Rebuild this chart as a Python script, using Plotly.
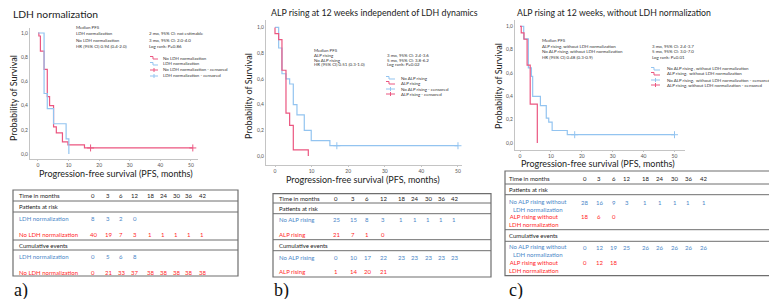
import plotly.graph_objects as go

W, H = 777, 299
FONT = "Lato, 'Open Sans', sans-serif"

# ---------------- data ----------------
x_ticks = [0, 10, 20, 30, 40, 50]
y_ticks = [0.0, 0.2, 0.4, 0.6, 0.8, 1.0]
y_tick_labels = ["0,0", "0,2", "0,4", "0,6", "0,8", "1,0"]
table_times = [0, 3, 6, 12, 18, 24, 30, 36, 42]

# Panel a - LDH normalization
a_noldh_t = [0, 0.3, 0.8, 2.0, 3.05, 3.8, 5.1, 6.0, 8.0, 9.8, 15.2, 50.6]
a_noldh_s = [1.0, 0.975, 0.85, 0.70, 0.475, 0.40, 0.225, 0.175, 0.10, 0.075, 0.05, 0.05]
a_noldh_cens = [17.2, 50.6]
a_ldh_t = [0, 2.0, 3.05, 5.1, 9.2, 10.1]
a_ldh_s = [1.0, 0.5, 0.375, 0.25, 0.125, 0.0]

# Panel b - ALP rising independent of LDH
b_noalp_t = [0, 1.0, 1.9, 3.0, 4.0, 5.0, 6.0, 8.0, 9.9, 15.0, 50.0]
b_noalp_s = [1.0, 0.84, 0.64, 0.60, 0.56, 0.40, 0.32, 0.20, 0.12, 0.08, 0.08]
b_noalp_cens = [16.9, 50.0]
b_alp_t = [0, 0, 1.0, 1.9, 3.0, 4.0, 5.0, 9.1]
b_alp_s = [1.0, 0.952, 0.905, 0.667, 0.333, 0.238, 0.048, 0.0]

# Panel c - ALP rising without LDH normalization
c_noalp_t = [0, 1.2, 2.7, 3.7, 4.1, 6.6, 8.5, 9.3, 10.4, 15.3, 50.0]
c_noalp_s = [1.0, 0.893, 0.643, 0.571, 0.40, 0.321, 0.214, 0.179, 0.107, 0.071, 0.071]
c_noalp_cens = [17.7, 50.0]
c_alp_t = [0, 0.4, 1.3, 2.3, 3.3, 5.6]
c_alp_s = [1.0, 0.944, 0.889, 0.667, 0.333, 0.0]

# Tables
a_risk_ldh = [8, 3, 2, 0]
a_risk_noldh = [40, 19, 7, 3, 1, 1, 1, 1, 1]
a_cum_ldh = [0, 5, 6, 8]
a_cum_noldh = [0, 21, 33, 37, 38, 38, 38, 38, 38]
b_risk_noalp = [25, 15, 8, 3, 1, 1, 1, 1, 1]
b_risk_alp = [21, 7, 1, 0]
b_cum_noalp = [0, 10, 17, 22, 23, 23, 23, 23, 23]
b_cum_alp = [1, 14, 20, 21]
c_risk_noalp = [28, 16, 9, 3, 1, 1, 1, 1, 1]
c_risk_alp = [18, 6, 0]
c_cum_noalp = [0, 12, 19, 25, 26, 26, 26, 26, 26]
c_cum_alp = [0, 12, 18]

# Texts
a_median = ["Median PFS", "LDH normalization", "No LDH normalization", "HR (95% CI) 0.94 (0.4-2.0)"]
a_median_r = ["2 mo, 95% CI: not estimable", "3 mo, 95% CI: 2.0-4.0", "Log rank: P=0.86"]
a_legend = ["No LDH normalization", "LDH normalization",
            "No LDH normalization - censored", "LDH normalization - censored"]
b_median = ["Median PFS", "ALP rising", "No ALP rising", "HR (95% CI) 0.51 (0.3-1.0)"]
b_median_r = ["3 mo, 95% CI: 2.4-3.6", "5 mo, 95% CI: 3.8-6.2", "Log rank: P=0.02"]
b_legend = ["No ALP rising", "ALP rising", "No ALP rising - censored", "ALP rising - censored"]
c_median = ["Median PFS", "ALP rising, without LDH normalization",
            "No ALP rising, without LDH normalization", "HR (95% CI) 0.48 (0.3-0.9)"]
c_median_r = ["3 mo, 95% CI: 2.4-3.7", "5 mo, 95% CI: 3.0-7.0", "Log rank: P=0.01"]
c_legend = ["No ALP rising , without LDH normalization", "ALP rising,  without LDH normalization",
            "No ALP rising,  without LDH normalization - censored",
            "ALP rising, without LDH normalization - censored"]

# ---------------- styling ----------------
BLUE = "#93c4f0"
PINK = "#eb5680"
TBLUE = "#4a86c8"
TRED = "#ff1f1f"
AX = "#c4c4c4"
TXT = "#333333"


def X(px):
    return px / W


def Y(py):
    return 1 - py / H


def step_at(ts, ss, t):
    val = ss[0]
    for ti, si in zip(ts, ss):
        if ti <= t:
            val = si
    return val


fig = go.Figure()
annotations = []
shapes = []


def ann(text, x, y, size, color=TXT, xanchor="left", yanchor="middle", angle=0, family=FONT):
    annotations.append(dict(text=text, x=X(x), y=Y(y), xref="paper", yref="paper",
                            showarrow=False, xanchor=xanchor, yanchor=yanchor,
                            textangle=angle, borderpad=0,
                            font=dict(size=size, color=color, family=family)))


panels = [
    dict(ax="", xdom=(22, 190), ydom=(20, 151), xr=(-2.6, 52.3), yr=(-0.0413, 1.0413),
         curves=[(a_noldh_t, a_noldh_s, a_noldh_cens, PINK), (a_ldh_t, a_ldh_s, [], BLUE)],
         title=("LDH normalization", 4, 6, 10.3),
         xtitle=(107.5, 165), ytitle=(5, 90), tsize=9,
         med=a_median, med_r=a_median_r, med_pos=(67, 140, [20, 26, 32, 38]),
         legend=a_legend, leg_col=[PINK, BLUE, PINK, BLUE], leg_pos=(142, 150, 154, [50, 56, 62, 68])),
    dict(ax="2", xdom=(258, 454), ydom=(12, 157), xr=(-2.46, 51.1), yr=(-0.07, 1.058),
         curves=[(b_noalp_t, b_noalp_s, b_noalp_cens, BLUE), (b_alp_t, b_alp_s, [], PINK)],
         title=("ALP rising at 12 weeks independent of LDH dynamics", 262, 5, 8.8),
         xtitle=(355, 171.5), ytitle=(240, 88), tsize=9,
         med=b_median, med_r=b_median_r, med_pos=(305, 378, [42, 47, 52, 57]),
         legend=b_legend, leg_col=[BLUE, PINK, BLUE, PINK], leg_pos=(378, 387, 392, [70, 75, 81, 86])),
    dict(ax="3", xdom=(507, 677), ydom=(12, 142), xr=(-1.62, 53.4), yr=(-0.06, 1.054),
         curves=[(c_noalp_t, c_noalp_s, c_noalp_cens, BLUE), (c_alp_t, c_alp_s, [], PINK)],
         title=("ALP rising at 12 weeks, without LDH normalization", 508, 5, 8.7),
         xtitle=(589.5, 155.5), ytitle=(490, 78), tsize=9,
         med=c_median, med_r=c_median_r, med_pos=(533, 643, [32, 38, 43, 49]),
         legend=c_legend, leg_col=[BLUE, PINK, BLUE, PINK], leg_pos=(643, 652, 658, [61, 66, 72, 77])),
]

layout_axes = {}
for p in panels:
    xa, ya = "x" + p["ax"], "y" + p["ax"]
    for ts, ss, cens, col in p["curves"]:
        fig.add_trace(go.Scatter(x=ts, y=ss, mode="lines", xaxis=xa, yaxis=ya,
                                 line=dict(shape="hv", color=col, width=1.2),
                                 showlegend=False, hoverinfo="skip"))
        if cens:
            fig.add_trace(go.Scatter(x=cens, y=[step_at(ts, ss, c) for c in cens], mode="markers",
                                     xaxis=xa, yaxis=ya, showlegend=False, hoverinfo="skip",
                                     marker=dict(symbol="cross-thin", size=5,
                                                 line=dict(width=1, color=col))))
    layout_axes["xaxis" + p["ax"]] = dict(
        domain=[X(p["xdom"][0]), X(p["xdom"][1])], range=list(p["xr"]), anchor=ya,
        showgrid=False, zeroline=False, showline=True, linecolor=AX, linewidth=1,
        tickvals=x_ticks, ticks="outside", ticklen=1, tickcolor=AX,
        tickfont=dict(size=5, color="#555", family=FONT))
    layout_axes["yaxis" + p["ax"]] = dict(
        domain=[Y(p["ydom"][1]), Y(p["ydom"][0])], range=list(p["yr"]), anchor=xa,
        showgrid=False, zeroline=False, showline=True, linecolor=AX, linewidth=1,
        tickvals=y_ticks, ticktext=y_tick_labels, ticks="",
        tickfont=dict(size=5, color="#555", family=FONT))
    t, tx, ty, ts_ = p["title"]
    ann(t, tx, ty, ts_, color="#222")
    ann("Progression-free survival (PFS, months)", p["xtitle"][0], p["xtitle"][1], p["tsize"],
        color="#222", xanchor="center")
    ann("Probability of Survival", p["ytitle"][0], p["ytitle"][1], p["tsize"], color="#222",
        xanchor="center", angle=-90)
    lx, rx, rows = p["med_pos"]
    for txt, ry in zip(p["med"], rows):
        ann(txt, lx, ry, 4.4)
    for txt, ry in zip(p["med_r"], rows[1:]):
        ann(txt, rx, ry, 4.4)
    x0, x1, xt, lrows = p["leg_pos"]
    for i, (txt, col, ry) in enumerate(zip(p["legend"], p["leg_col"], lrows)):
        ann(txt, xt, ry, 4.4)
        if i < 2:
            path = "M %f %f L %f %f L %f %f L %f %f" % (
                X(x0), Y(ry - 1.5), X(x0 + 3), Y(ry - 1.5), X(x0 + 3), Y(ry + 1), X(x1), Y(ry + 1))
            shapes.append(dict(type="path", path=path, xref="paper", yref="paper",
                               line=dict(color=col, width=1)))
        else:
            shapes.append(dict(type="line", x0=X(x0), x1=X(x1), y0=Y(ry), y1=Y(ry),
                               xref="paper", yref="paper", line=dict(color=col, width=1)))
            xm = (x0 + x1) / 2
            shapes.append(dict(type="line", x0=X(xm), x1=X(xm), y0=Y(ry - 2), y1=Y(ry + 2),
                               xref="paper", yref="paper", line=dict(color=col, width=1)))

# ---------------- tables ----------------
tables = [
    dict(box=(5, 230, 182, 268), lines=[193, 204, 232, 242], labx=10,
         cols=[85, 100, 113.3, 126.5, 142.3, 155.3, 168.3, 180.7, 194],
         head_y=187, pr_y=198, ce_y=237,
         groups=[("LDH normalization", TBLUE, a_risk_ldh, a_cum_ldh, 210, 248, 210, 248),
                 ("No LDH normalization", TRED, a_risk_noldh, a_cum_noldh, 226, 264, 226, 264)],
         lab="a)", lab_x=5),
    dict(box=(265, 483, 185.7, 269), lines=[195, 205.7, 231.7, 242.7], labx=270,
         cols=[328.3, 345, 359.3, 375, 393.3, 406.7, 420, 433.3, 446],
         head_y=190, pr_y=200, ce_y=237.3,
         groups=[("No ALP rising", TBLUE, b_risk_noalp, b_cum_noalp, 211.7, 249, 211.7, 249),
                 ("ALP rising", TRED, b_risk_alp, b_cum_alp, 226.7, 263.3, 226.7, 263.3)],
         lab="b)", lab_x=265),
    dict(box=(497, 776, 163, 267.7), lines=[176, 186.7, 221.7, 233.3], labx=499.5,
         cols=[576.7, 591, 605.7, 618.7, 637.3, 651.7, 666.7, 680, 695.7],
         head_y=171, pr_y=181.7, ce_y=227.3,
         groups=[("No ALP rising without<br>LDH normalization", TBLUE, c_risk_noalp, c_cum_noalp,
                  197.5, 242.5, 194, 239),
                 ("ALP rising without<br>LDH normalization", TRED, c_risk_alp, c_cum_alp,
                  212, 258, 208.3, 254)],
         lab="c)", lab_x=500),
]

TS = 6
for tb in tables:
    l, r, t, b = tb["box"]
    shapes.append(dict(type="rect", x0=X(l), x1=X(r), y0=Y(b), y1=Y(t), xref="paper", yref="paper",
                       line=dict(color="#6e6e6e", width=1.2)))
    for ly in tb["lines"]:
        shapes.append(dict(type="line", x0=X(l), x1=X(r), y0=Y(ly), y1=Y(ly), xref="paper",
                           yref="paper", line=dict(color="#6e6e6e", width=1)))
    ann("Time in months", tb["labx"], tb["head_y"], TS, color="#222")
    for tm, cx in zip(table_times, tb["cols"]):
        ann(str(tm), cx, tb["head_y"], TS, color="#222", xanchor="center")
    ann("Patients at risk", tb["labx"], tb["pr_y"], TS, color="#222")
    ann("Cumulative events", tb["labx"], tb["ce_y"], TS, color="#222")
    for name, col, risk, cum, ly_r, ly_c, vy_r, vy_c in tb["groups"]:
        ann(name, tb["labx"], ly_r, TS, color=col)
        ann(name, tb["labx"], ly_c, TS, color=col)
        for v, cx in zip(risk, tb["cols"]):
            ann(str(v), cx, vy_r, TS, color=col, xanchor="center")
        for v, cx in zip(cum, tb["cols"]):
            ann(str(v), cx, vy_c, TS, color=col, xanchor="center")
    ann(tb["lab"], tb["lab_x"], 282, 18, color="#111", family="'Liberation Serif', serif")

fig.update_layout(width=W, height=H, margin=dict(l=0, r=0, t=0, b=0),
                  paper_bgcolor="white", plot_bgcolor="white",
                  annotations=annotations, shapes=shapes, showlegend=False, **layout_axes)

fig.write_html("out.html")
